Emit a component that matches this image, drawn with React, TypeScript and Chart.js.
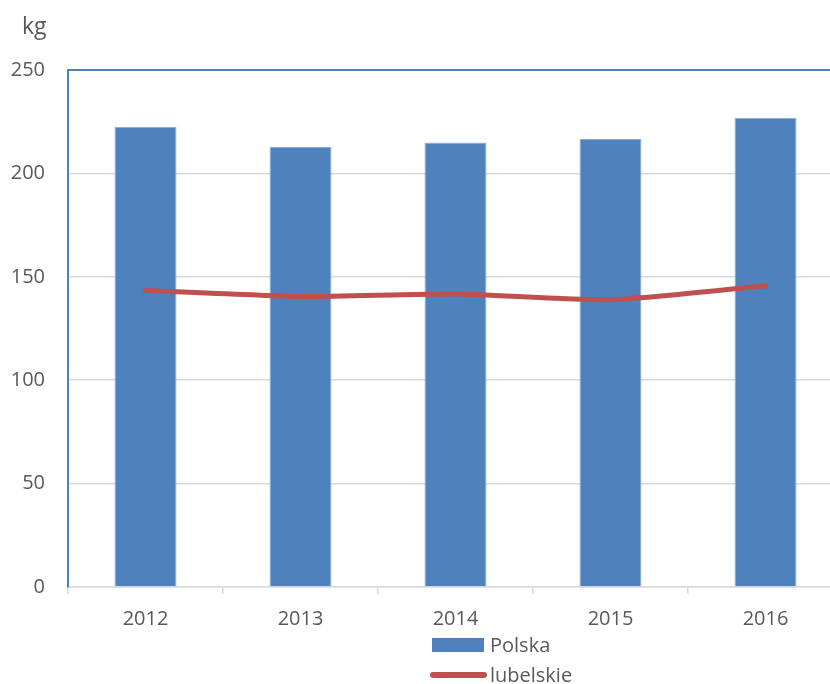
import React, { useEffect, useRef } from "react";
import { Chart, registerables } from "chart.js";

Chart.register(...registerables);

const years = ["2012", "2013", "2014", "2015", "2016"];
const polska = [222.4, 212.8, 215.0, 216.6, 226.8];
const lubelskie = [143.4, 140.5, 141.7, 138.9, 145.7];
const yTicks = [0, 50, 100, 150, 200, 250];

const FONT = "'Open Sans', 'Noto Sans', sans-serif";
const TEXT = "#595959";
const BLUE = "#4F81BD";
const RED = "#C0504D";
const GRID = "#D9D9D9";

export default function App() {
  const ref = useRef<HTMLCanvasElement | null>(null);

  useEffect(() => {
    if (!ref.current) return;
    const chart = new Chart(ref.current, {
      type: "bar",
      data: {
        labels: years,
        datasets: [
          {
            type: "line",
            label: "lubelskie",
            data: lubelskie,
            borderColor: RED,
            backgroundColor: RED,
            borderWidth: 5,
            pointRadius: 0,
            tension: 0.2,
            borderCapStyle: "round",
            borderJoinStyle: "round",
            order: 0,
          } as any,
          {
            type: "bar",
            label: "Polska",
            data: polska,
            backgroundColor: BLUE,
            borderColor: "#8FAEDA",
            borderWidth: 1,
            barPercentage: 0.4,
            categoryPercentage: 1.0,
            order: 1,
          },
        ],
      },
      options: {
        responsive: false,
        animation: false,
        layout: { padding: { top: 70, right: 17, left: 0, bottom: 0 } },
        plugins: { legend: { display: false }, tooltip: { enabled: false } },
        scales: {
          x: {
            offset: true,
            grid: {
              offset: true,
              drawOnChartArea: false,
              drawTicks: true,
              tickLength: 7,
              color: GRID,
              lineWidth: 1.5,
            },
            border: { color: GRID, width: 1.5 },
            ticks: {
              color: TEXT,
              font: { family: FONT, size: 20 },
              padding: 13,
              maxRotation: 0,
            },
            afterFit: (scale: any) => {
              scale.height = 97;
            },
          },
          y: {
            min: 0,
            max: 250,
            afterBuildTicks: (scale: any) => {
              scale.ticks = yTicks.map((v) => ({ value: v }));
            },
            grid: {
              drawTicks: false,
              color: (ctx: any) => (ctx.tick && ctx.tick.value === 250 ? BLUE : GRID),
              lineWidth: (ctx: any) => (ctx.tick && ctx.tick.value === 250 ? 2 : 1.5),
            },
            border: { color: BLUE, width: 2 },
            ticks: {
              color: TEXT,
              font: { family: FONT, size: 20 },
              padding: 23,
            },
            afterFit: (scale: any) => {
              scale.width = 68;
            },
          },
        },
      },
    });
    return () => chart.destroy();
  }, []);

  const textStyle: React.CSSProperties = {
    position: "absolute",
    fontFamily: FONT,
    fontSize: 20,
    color: TEXT,
    lineHeight: "24px",
    whiteSpace: "nowrap",
  };

  return (
    <div
      style={{
        position: "absolute",
        left: 0,
        top: 0,
        width: 830,
        height: 684,
        overflow: "hidden",
        background: "#fff",
      }}
    >
      <canvas ref={ref} width={860} height={684} style={{ position: "absolute", left: 0, top: 0, width: 860, height: 684 }} />
      <div style={{ ...textStyle, left: 22, top: 11, fontSize: 23, lineHeight: "28px" }}>kg</div>
      <div style={{ position: "absolute", left: 432, top: 638, width: 52, height: 14, background: BLUE }} />
      <div style={{ ...textStyle, left: 490, top: 633 }}>Polska</div>
      <div style={{ position: "absolute", left: 430, top: 672, width: 57, height: 6, borderRadius: 3, background: RED }} />
      <div style={{ ...textStyle, left: 490, top: 663 }}>lubelskie</div>
    </div>
  );
}
